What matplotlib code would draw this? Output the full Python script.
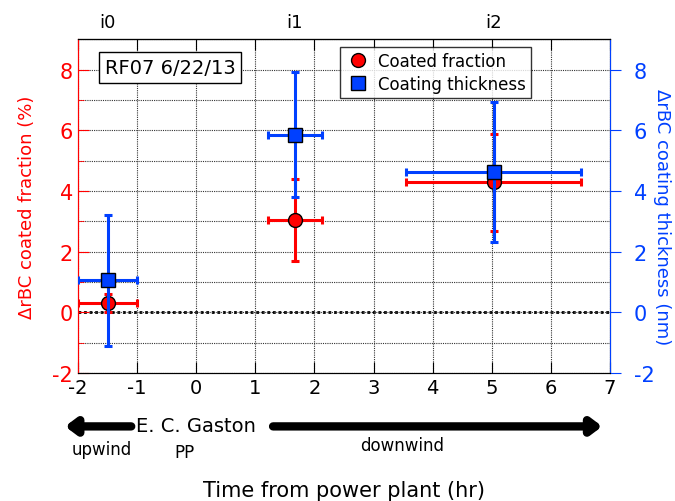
import numpy as np
import matplotlib
matplotlib.use("Agg")
import matplotlib.pyplot as plt
from matplotlib.lines import Line2D
from matplotlib.ticker import MultipleLocator

plt.rcParams['font.family'] = ['DejaVu Sans']
plt.rcParams['axes.unicode_minus'] = False

# Transects downwind of the plant
labels = ["i0", "i1", "i2"]
timeHr = [-1.5, 1.67, 5.03]
timeErr = [0.5, 0.46, 1.48]

# Coated fraction change (%)
fracVals = [0.3, 3.05, 4.29]
fracErr = [0.3, 1.35, 1.6]

# Coating thickness change (nm)
thickVals = [1.05, 5.85, 4.62]
thickErr = [2.15, 2.06, 2.32]

red = "#ff0000"
blue = "#0040ff"

fig = plt.figure(figsize=(6.75, 5.02), dpi=100)
ax = fig.add_axes([0.1156, 0.255, 0.788, 0.665])
ax2 = ax.twinx()

ax.set_xlim(-2, 7)
ax.set_ylim(-2, 9)
ax2.set_ylim(-2, 9)

# grid at every integer, dotted
ax.xaxis.set_major_locator(MultipleLocator(1))
ax.yaxis.set_major_locator(MultipleLocator(2))
ax.yaxis.set_minor_locator(MultipleLocator(1))
ax.grid(True, which='both', color='#333333', linestyle=(0, (1, 1)), linewidth=0.8)
ax.axhline(0, color='black', linestyle=(0, (1, 1)), linewidth=2, zorder=1)

ax.errorbar(timeHr, fracVals, xerr=timeErr, yerr=fracErr, fmt='o', color=red,
            markersize=10, markeredgecolor='black', markerfacecolor=red,
            elinewidth=2.2, capsize=3, capthick=2.2, zorder=3)
ax2.errorbar(timeHr, thickVals, xerr=timeErr, yerr=thickErr, fmt='s', color=blue,
             markersize=10, markeredgecolor='black', markerfacecolor=blue,
             elinewidth=2.2, capsize=3, capthick=2.2, zorder=3)

# left axis in red
ax.tick_params(axis='y', which='both', direction='in', colors=red, labelsize=15)
ax.tick_params(axis='y', which='major', length=8)
ax.tick_params(axis='y', which='minor', length=4)
ax.tick_params(axis='x', which='both', direction='in', top=True, length=8, labelsize=14)
ax.spines['left'].set_color(red)
ax.set_ylabel("ΔrBC coated fraction (%)", color=red, fontsize=13, labelpad=12)

# right axis in blue, ticks outward
ax2.yaxis.set_major_locator(MultipleLocator(2))
ax2.tick_params(axis='y', which='major', direction='out', length=8,
                colors=blue, labelsize=15, pad=9)
ax2.spines['right'].set_color(blue)
ax2.spines['left'].set_color(red)
ax2.set_ylabel("ΔrBC coating thickness (nm)", color=blue, fontsize=13,
               rotation=270, labelpad=20)
ax2.yaxis.set_label_coords(1.115, 0.47)

# transect labels along the top
top = ax.secondary_xaxis('top')
top.set_xticks(timeHr, labels)
top.tick_params(length=0, labelsize=13, pad=6)

# legend and flight label
handles = [Line2D([], [], marker='o', linestyle='none', markersize=10,
                  markerfacecolor=red, markeredgecolor='black', label='Coated fraction'),
           Line2D([], [], marker='s', linestyle='none', markersize=10,
                  markerfacecolor=blue, markeredgecolor='black', label='Coating thickness')]
leg = ax2.legend(handles=handles, loc='upper left', bbox_to_anchor=(0.4925, 0.978),
                 fontsize=12, frameon=True, fancybox=False, edgecolor='black',
                 handletextpad=0.4, handlelength=1.6, borderpad=0.3,
                 labelspacing=0.3, borderaxespad=0)
leg.get_frame().set_linewidth(1)
ax.text(0.05, 0.915, "RF07 6/22/13", transform=ax.transAxes, fontsize=14,
        va='center', ha='left',
        bbox=dict(boxstyle='square,pad=0.3', facecolor='white', edgecolor='black'))

# upwind / downwind arrows below the axis
tr = ax.get_xaxis_transform()
ax.annotate("", xy=(-2.22, -0.16), xytext=(-1.1, -0.16), xycoords=tr, textcoords=tr,
            annotation_clip=False,
            arrowprops=dict(arrowstyle='-|>,head_length=0.6,head_width=0.45', lw=6,
                            color='black', shrinkA=0, shrinkB=0))
ax.annotate("", xy=(6.87, -0.16), xytext=(1.3, -0.16), xycoords=tr, textcoords=tr,
            annotation_clip=False,
            arrowprops=dict(arrowstyle='-|>,head_length=0.6,head_width=0.45', lw=6,
                            color='black', shrinkA=0, shrinkB=0))
ax.text(0.0, -0.158, "E. C. Gaston", transform=tr, fontsize=14, ha='center', va='center')
ax.text(-0.2, -0.237, "PP", transform=tr, fontsize=12, ha='center', va='center')
ax.text(-1.6, -0.227, "upwind", transform=tr, fontsize=12, ha='center', va='center')
ax.text(3.48, -0.217, "downwind", transform=tr, fontsize=12, ha='center', va='center')
ax.set_xlabel("Time from power plant (hr)", fontsize=15, labelpad=60)

fig.savefig("out.png", dpi=100)
